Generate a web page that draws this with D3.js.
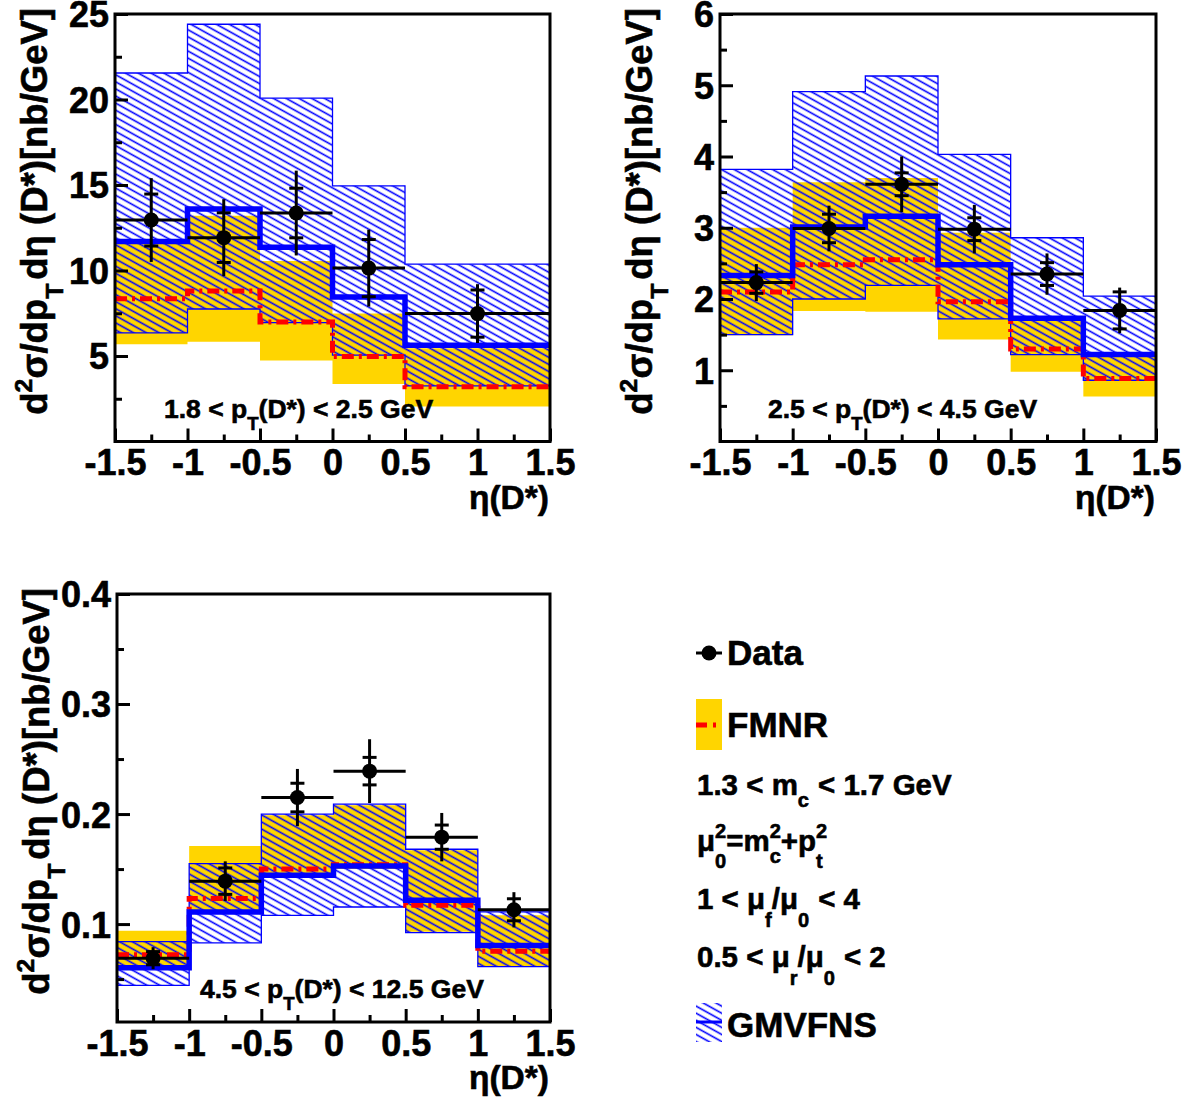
<!DOCTYPE html>
<html><head><meta charset="utf-8">
<script src="https://cdn.jsdelivr.net/npm/d3@7"></script>
<style>
html,body{margin:0;padding:0;background:#fff;}
text{font-family:'Liberation Sans',Arial,Helvetica,sans-serif;font-weight:bold;white-space:pre;fill:#000;stroke:#000;stroke-width:0.6px;}
</style></head><body>
<script>
// ---------------- DATA ----------------
const eta5 = [-1.5, -1, -0.5, 0, 0.5, 1.5];
const eta6 = [-1.5, -1, -0.5, 0, 0.5, 1, 1.5];
const xTickValues = [-1.5, -1, -0.5, 0, 0.5, 1, 1.5];
const xTickLabels = ["-1.5", "-1", "-0.5", "0", "0.5", "1", "1.5"];
const xMinorTicks = [-1.25, -0.75, -0.25, 0.25, 0.75, 1.25];

// Panel 1 : 1.8 < pT < 2.5 GeV
const p1Data = [12.95, 11.92, 13.36, 10.14, 7.48];
const p1Stat = [1.52, 1.45, 1.45, 1.67, 1.38];
const p1Tot  = [2.45, 2.25, 2.48, 2.25, 1.72];
const p1GmvHi = [21.55, 24.4, 20.08, 14.95, 10.37];
const p1GmvLo = [6.35, 7.75, 6.95, 5.05, 3.25];
const p1GmvC  = [11.69, 13.6, 11.36, 8.45, 5.63];
const p1FmnHi = [11.6, 13.2, 10.55, 7.48, 5.45];
const p1FmnLo = [5.69, 5.83, 4.73, 3.36, 2.04];
const p1FmnC  = [8.35, 8.8, 6.99, 4.97, 3.2];
const p1YMajor = [5, 10, 15, 20, 25];
const p1YMinor = [2.5, 7.5, 12.5, 17.5, 22.5];

// Panel 2 : 2.5 < pT < 4.5 GeV
const p2Data = [2.23, 2.99, 3.61, 2.98, 2.35, 1.84];
const p2Stat = [0.15, 0.2, 0.16, 0.16, 0.16, 0.26];
const p2Tot  = [0.26, 0.32, 0.39, 0.34, 0.29, 0.32];
const p2GmvHi = [3.82, 4.91, 5.13, 4.03, 2.86, 2.04];
const p2GmvLo = [1.5, 2.0, 2.19, 1.72, 1.22, 0.86];
const p2GmvC  = [2.33, 3.01, 3.16, 2.48, 1.73, 1.22];
const p2FmnHi = [3.0, 3.64, 3.70, 2.93, 1.76, 1.25];
const p2FmnLo = [1.49, 1.83, 1.82, 1.43, 0.98, 0.63];
const p2FmnC  = [2.1, 2.48, 2.55, 1.96, 1.30, 0.885];
const p2YMajor = [1, 2, 3, 4, 5, 6];
const p2YMinor = [0.5, 1.5, 2.5, 3.5, 4.5, 5.5];

// Panel 3 : 4.5 < pT < 12.5 GeV
const p3Data = [0.069, 0.139, 0.215, 0.239, 0.179, 0.113];
const p3Stat = [0.006, 0.012, 0.013, 0.0125, 0.011, 0.010];
const p3Tot  = [0.010, 0.018, 0.026, 0.029, 0.022, 0.016];
const p3GmvHi = [0.084, 0.155, 0.200, 0.209, 0.168, 0.111];
const p3GmvLo = [0.0443, 0.083, 0.108, 0.1155, 0.0923, 0.0613];
const p3GmvC  = [0.0604, 0.111, 0.1444, 0.1527, 0.1217, 0.0805];
const p3FmnHi = [0.094, 0.171, 0.199, 0.208, 0.167, 0.108];
const p3FmnLo = [0.061, 0.112, 0.143, 0.150, 0.093, 0.061];
const p3FmnC  = [0.0722, 0.1233, 0.150, 0.154, 0.117, 0.0752];
const p3YMajor = [0.1, 0.2, 0.3, 0.4];
const p3YMinor = [0.05, 0.15, 0.25, 0.35];

const ptLabels = [["1.8 < p", "T", "(D*) < 2.5 GeV"], ["2.5 < p", "T", "(D*) < 4.5 GeV"], ["4.5 < p", "T", "(D*) < 12.5 GeV"]];

// ---------------- STYLE ----------------
const YELLOW = "#ffd500", BLUE = "#0000ff", RED = "#ff0000";

const svg = d3.select("body").append("svg").attr("width", 1193).attr("height", 1101)
  .style("display", "block");
svg.append("rect").attr("width", 1193).attr("height", 1101).attr("fill", "#fff");

const defs = svg.append("defs");
const pat = defs.append("pattern").attr("id", "hatch").attr("patternUnits", "userSpaceOnUse")
  .attr("width", 20).attr("height", 6.2).attr("patternTransform", "rotate(29)");
pat.append("line").attr("x1", -1).attr("x2", 21).attr("y1", 3.1).attr("y2", 3.1)
  .attr("stroke", BLUE).attr("stroke-width", 1.6);

// rich text helper: tokens are strings or {sub, sup}
function rich(parent, x, y, tokens, o) {
  const size = o.size, g = parent.append("g");
  let cx = 0;
  tokens.forEach(tk => {
    if (typeof tk === "string") {
      const t = g.append("text").attr("x", cx).attr("y", 0).attr("font-size", size).text(tk);
      cx += t.node().getComputedTextLength();
    } else {
      const ss = size * (tk.scale || 0.68);
      let w = 0;
      if (tk.sup != null) {
        const t = g.append("text").attr("x", cx).attr("y", -size * (tk.supShift || 0.42)).attr("font-size", ss).text(tk.sup);
        w = Math.max(w, t.node().getComputedTextLength());
      }
      if (tk.sub != null) {
        const t = g.append("text").attr("x", cx).attr("y", size * (tk.subShift || 0.5)).attr("font-size", ss).text(tk.sub);
        w = Math.max(w, t.node().getComputedTextLength());
      }
      cx += w + (tk.pad || 0);
    }
  });
  const ox = o.anchor === "middle" ? -cx / 2 : o.anchor === "end" ? -cx : 0;
  g.attr("transform", `translate(${x},${y})` + (o.rotate ? ` rotate(${o.rotate})` : "") + ` translate(${ox},0)`);
  return g;
}

function drawPanel(p) {
  const x = d3.scaleLinear().domain([-1.5, 1.5]).range([p.x0, p.x1]);
  const y = d3.scaleLinear().domain(p.yDomain).range([p.yBot, p.yTop]);
  const g = svg.append("g");
  const clipId = "clip" + p.id;
  defs.append("clipPath").attr("id", clipId).append("rect")
    .attr("x", p.x0).attr("y", p.yTop).attr("width", p.x1 - p.x0).attr("height", p.yBot - p.yTop);
  const pg = g.append("g").attr("clip-path", `url(#${clipId})`);

  const bandPts = (edges, hi, lo) => {
    const pts = [];
    hi.forEach((v, i) => { pts.push([edges[i], v]); pts.push([edges[i + 1], v]); });
    for (let i = lo.length - 1; i >= 0; i--) { pts.push([edges[i + 1], lo[i]]); pts.push([edges[i], lo[i]]); }
    return pts;
  };
  const stepPts = (edges, v) => {
    const pts = [];
    v.forEach((d, i) => { pts.push([edges[i], d]); pts.push([edges[i + 1], d]); });
    return pts;
  };
  const line = d3.line().x(d => x(d[0])).y(d => y(d[1]));

  // FMNR band
  pg.append("path").attr("d", line(bandPts(p.thEdges, p.fHi, p.fLo)) + "Z").attr("fill", YELLOW);
  // GMVFNS band
  pg.append("path").attr("d", line(bandPts(p.thEdges, p.gHi, p.gLo)) + "Z")
    .attr("fill", "url(#hatch)").attr("stroke", BLUE).attr("stroke-width", 1.3);
  // FMNR central
  pg.append("path").attr("d", line(stepPts(p.thEdges, p.fC))).attr("fill", "none")
    .attr("stroke", RED).attr("stroke-width", 5).attr("stroke-dasharray", "12,5,3,5");
  // GMVFNS central
  pg.append("path").attr("d", line(stepPts(p.thEdges, p.gC))).attr("fill", "none")
    .attr("stroke", BLUE).attr("stroke-width", 5.5).attr("stroke-linejoin", "miter");

  // Data
  const dg = g.append("g").attr("stroke", "#000").attr("stroke-width", 3);
  p.data.forEach((v, i) => {
    const xl = p.dEdges[i], xr = p.dEdges[i + 1], xc = (xl + xr) / 2;
    dg.append("line").attr("x1", x(xl)).attr("x2", x(xr)).attr("y1", y(v)).attr("y2", y(v));
    dg.append("line").attr("x1", x(xc)).attr("x2", x(xc)).attr("y1", y(v + p.tot[i])).attr("y2", y(v - p.tot[i]));
    [v + p.stat[i], v - p.stat[i]].forEach(s => {
      dg.append("line").attr("x1", x(xc) - 7).attr("x2", x(xc) + 7).attr("y1", y(s)).attr("y2", y(s));
    });
    dg.append("circle").attr("cx", x(xc)).attr("cy", y(v)).attr("r", 7.5).attr("fill", "#000").attr("stroke", "none");
  });

  // Axes
  const fs = 36;
  const yAx = g.append("g").attr("transform", `translate(${p.x0},0)`)
    .call(d3.axisLeft(y).tickValues(p.yMajor).tickSize(-13).tickPadding(6).tickFormat(d3.format("")));
  const yAxMin = g.append("g").attr("transform", `translate(${p.x0},0)`)
    .call(d3.axisLeft(y).tickValues(p.yMinor).tickSize(-7).tickFormat(""));
  const xAx = g.append("g").attr("transform", `translate(0,${p.yBot})`)
    .call(d3.axisBottom(x).tickValues(xTickValues).tickSize(-13).tickPadding(8).tickFormat((d, i) => xTickLabels[i]));
  const xAxMin = g.append("g").attr("transform", `translate(0,${p.yBot})`)
    .call(d3.axisBottom(x).tickValues(xMinorTicks).tickSize(-7).tickFormat(""));
  [yAx, yAxMin, xAx, xAxMin].forEach(a => {
    a.select(".domain").remove();
    a.selectAll(".tick line").attr("stroke", "#000").attr("stroke-width", 3);
    a.selectAll("text").attr("font-size", fs);
  });
  yAx.selectAll("text").attr("dy", "0.36em");
  g.append("rect").attr("x", p.x0).attr("y", p.yTop).attr("width", p.x1 - p.x0).attr("height", p.yBot - p.yTop)
    .attr("fill", "none").attr("stroke", "#000").attr("stroke-width", 3);

  // X title
  rich(g, p.x1 - 1, p.yBot + 67, ["η(D*)"], { size: 33.5, anchor: "end" });
  // Y title
  rich(g, p.x0 - 68, p.yTop - 6,
    ["d", { sup: "2", supShift: 0.4 }, "σ/dp", { sub: "T", subShift: 0.45, pad: 4 }, "dη (D*)[nb/GeV]"],
    { size: 36.5, anchor: "end", rotate: -90 });
  // pT range label
  rich(g, p.lx, p.ly, [p.lab[0], { sub: p.lab[1], subShift: 0.45, scale: 0.7 }, p.lab[2]], { size: 26.5 });
}

drawPanel({ id: 1, x0: 115, x1: 550, yTop: 14, yBot: 441.5, yDomain: [0, 25],
  thEdges: eta5, dEdges: eta5, data: p1Data, stat: p1Stat, tot: p1Tot,
  gHi: p1GmvHi, gLo: p1GmvLo, gC: p1GmvC, fHi: p1FmnHi, fLo: p1FmnLo, fC: p1FmnC,
  yMajor: p1YMajor, yMinor: p1YMinor, lab: ptLabels[0], lx: 164, ly: 418 });
drawPanel({ id: 2, x0: 720, x1: 1156, yTop: 14, yBot: 441.5, yDomain: [0, 6],
  thEdges: eta6, dEdges: eta6, data: p2Data, stat: p2Stat, tot: p2Tot,
  gHi: p2GmvHi, gLo: p2GmvLo, gC: p2GmvC, fHi: p2FmnHi, fLo: p2FmnLo, fC: p2FmnC,
  yMajor: p2YMajor, yMinor: p2YMinor, lab: ptLabels[1], lx: 768, ly: 418 });
drawPanel({ id: 3, x0: 117, x1: 550, yTop: 594, yBot: 1022, yDomain: [0.011, 0.4],
  thEdges: eta6, dEdges: eta6, data: p3Data, stat: p3Stat, tot: p3Tot,
  gHi: p3GmvHi, gLo: p3GmvLo, gC: p3GmvC, fHi: p3FmnHi, fLo: p3FmnLo, fC: p3FmnC,
  yMajor: p3YMajor, yMinor: p3YMinor, lab: ptLabels[2], lx: 200, ly: 998 });

// ---------------- LEGEND ----------------
const lg = svg.append("g");
lg.append("line").attr("x1", 696).attr("x2", 722).attr("y1", 653).attr("y2", 653).attr("stroke", "#000").attr("stroke-width", 3);
lg.append("circle").attr("cx", 709).attr("cy", 653).attr("r", 7.5).attr("fill", "#000");
rich(lg, 727, 665, ["Data"], { size: 35 });

lg.append("rect").attr("x", 696).attr("y", 699).attr("width", 26).attr("height", 51).attr("fill", YELLOW);
lg.append("line").attr("x1", 696).attr("x2", 722).attr("y1", 725).attr("y2", 725).attr("stroke", RED)
  .attr("stroke-width", 5).attr("stroke-dasharray", "11,6,3,20");
rich(lg, 727, 737, ["FMNR"], { size: 35 });

rich(lg, 697, 795, ["1.3 < m", { sub: "c", subShift: 0.4, pad: 9 }, "< 1.7 GeV"], { size: 29.5 });
rich(lg, 697, 851, ["μ", { sup: "2", sub: "0", supShift: 0.45, subShift: 0.58 }, "=m", { sup: "2", sub: "c", supShift: 0.45, subShift: 0.42 }, "+p", { sup: "2", sub: "t", supShift: 0.45, subShift: 0.58 }], { size: 29.5 });
rich(lg, 697, 909, ["1 < μ", { sub: "f", subShift: 0.6 }, "/μ", { sub: "0", subShift: 0.6, pad: 9 }, "< 4"], { size: 29.5 });
rich(lg, 697, 967, ["0.5 < μ", { sub: "r", subShift: 0.6 }, "/μ", { sub: "0", subShift: 0.6, pad: 9 }, "< 2"], { size: 29.5 });

lg.append("rect").attr("x", 696).attr("y", 1003).attr("width", 26).attr("height", 39).attr("fill", "url(#hatch)");
lg.append("line").attr("x1", 696).attr("x2", 722).attr("y1", 1022).attr("y2", 1022).attr("stroke", BLUE).attr("stroke-width", 3);
rich(lg, 727, 1037, ["GMVFNS"], { size: 35 });
</script>
</body></html>
